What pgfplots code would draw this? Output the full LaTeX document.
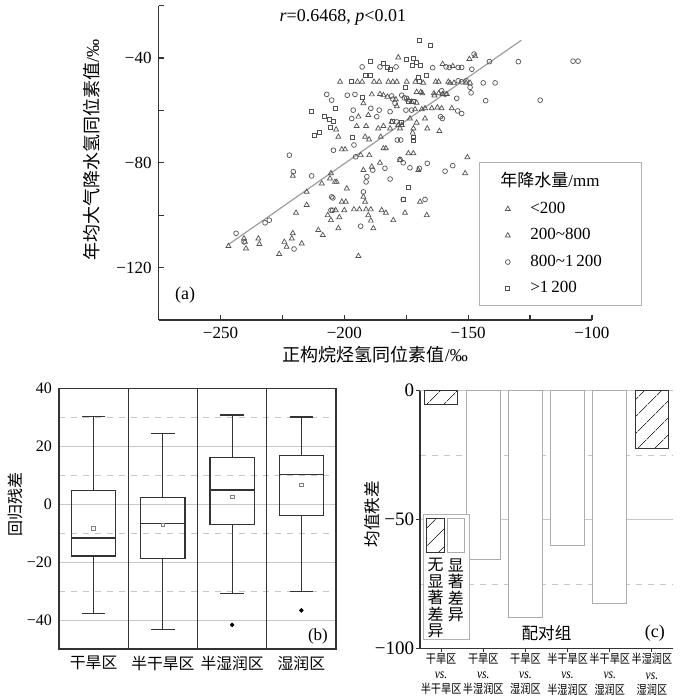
\documentclass[border=0pt]{standalone}
\usepackage{fontspec}
\setmainfont{Liberation Serif}
\newfontfamily\cjk{Noto Sans CJK SC}
\usepackage{pgfplots}
\pgfplotsset{compat=1.18}
\usepgfplotslibrary{statistics}
\usetikzlibrary{patterns.meta}

\definecolor{ptc}{gray}{0.32}
\definecolor{fitc}{RGB}{165,155,155}
\definecolor{gridc}{gray}{0.78}
\definecolor{axc}{gray}{0.2}

% legend swatches of panel (c): patch above, text stacked below
\pgfplotsset{
  sigleg/.style={legend image code/.code={
    \draw[axc, line width=0.5pt, pattern={Lines[angle=45,distance=6.5pt,line width=0.35pt]}, pattern color=axc] (0pt,0pt) rectangle (8.9pt,17pt);
    \node[anchor=north, inner sep=0pt, align=center, font=\fontsize{8}{8.2}\selectfont\cjk] at (4.45pt,-3pt) {无\\显\\著\\差\\异};}},
  nsleg/.style={legend image code/.code={
    \draw[gray!65, line width=0.5pt, fill=white] (0pt,0pt) rectangle (8.4pt,17pt);
    \node[anchor=north, inner sep=0pt, align=center, font=\fontsize{8}{8.2}\selectfont\cjk] at (4.2pt,-3pt) {显\\著\\差\\异};}},
  bx/.style={axc, line width=0.6pt},
}
\newcommand\vs{{\fontsize{7}{7.6}\selectfont\textit{vs.}}}

\begin{document}
\begin{tikzpicture}
\path[use as bounding box] (0,0) rectangle (350pt,348pt);

% ---------------- (a) scatter
\begin{axis}[
  at={(79.3pt,188pt)}, anchor=south west, scale only axis,
  width=216.65pt, height=157.2pt,
  xmin=-275, xmax=-100, ymin=-140, ymax=-20,
  axis lines*=left, axis line style={line width=0.6pt, axc},
  tick align=inside, major tick length=2.5pt, minor tick length=2.5pt,
  tick style={axc, line width=0.6pt},
  xtick={-250,-200,-150,-100}, xticklabels={−250,−200,−150,−100},
  minor xtick={-225,-175,-125},
  ytick={-120,-80,-40}, yticklabels={−120,−80,−40},
  minor ytick={-140,-100,-60,-20},
  tick label style={font=\fontsize{8.5}{10}\selectfont},
  xlabel={{\cjk 正构烷烃氢同位素值}/‰},
  ylabel={{\cjk 年均大气降水氢同位素值}/‰},
  label style={font=\fontsize{9}{10}\selectfont},
  xlabel style={at={(axis description cs:0.5,-0.111)}, anchor=center},
  ylabel style={at={(axis description cs:-0.154,0.54)}, anchor=center},
  legend style={at={(0.740,0.503)}, anchor=north west, draw=gray!60, line width=0.5pt,
    font=\fontsize{8.5}{10}\selectfont, row sep=2.1pt, inner xsep=5.5pt, inner ysep=3pt,
    /tikz/every odd column/.append style={column sep=8pt}},
  legend cell align=left,
  clip=false,
]
\addplot[forget plot, fitc, line width=0.6pt] coordinates {(-246.8,-111.2) (-128.5,-33.2)};

\addlegendimage{empty legend}
\addlegendentry{\hspace{-15pt}{\cjk 年降水量}/mm}

\addplot[only marks, mark=triangle, mark size=1.45pt, ptc, mark options={line width=0.35pt}] coordinates {
(-246.8,-111.8) (-240.5,-108.9) (-240.1,-110.2) (-239.7,-112.7) (-234.7,-108.9) (-234.3,-111.0)
(-226.3,-114.8) (-224.2,-110.2) (-223.3,-112.1) (-221.2,-108.9) (-220.8,-106.9) (-217.2,-110.8)
(-210.5,-105.7) (-208.7,-107.6) (-202.4,-105.0) (-188.3,-105.0) (-194.3,-115.6) (-205.4,-101.9)
(-202.0,-100.8) (-189.3,-102.1) (-180.2,-101.9) (-206.7,-100.0) (-190.3,-100.0) (-166.7,-100.0)
};
\addlegendentry{<200}

\addplot[only marks, mark=triangle, mark size=1.45pt, ptc, mark options={line width=0.35pt}] coordinates {
(-178.2,-39.8) (-160.3,-42.3) (-156.2,-43.1) (-149.5,-40.4) (-147.2,-39.3)
(-201.7,-49.1) (-194.7,-49.1) (-192.8,-49.1) (-188.0,-49.1) (-185.9,-49.1) (-182.2,-49.1)
(-180.4,-49.1) (-178.8,-49.1) (-174.8,-49.1) (-171.3,-49.1) (-163.1,-49.1) (-161.9,-49.1)
(-158.0,-49.1) (-168.1,-49.5) (-157.3,-49.5) (-155.7,-49.5) (-150.8,-49.5) (-149.2,-49.5)
(-169.1,-53.0) (-170.8,-53.0) (-188.9,-53.9) (-185.6,-53.8) (-184.2,-54.2) (-182.6,-54.8)
(-163.8,-53.5) (-161.9,-53.5) (-160.3,-53.8) (-158.6,-53.8) (-168.5,-53.5) (-163.6,-54.3)
(-179.2,-55.8) (-170.8,-57.1) (-174.1,-56.1) (-172.8,-56.7) (-192.3,-57.3) (-178.8,-58.4)
(-167.4,-59.2) (-164.7,-59.2) (-162.4,-58.9) (-160.7,-59.2) (-171.4,-59.6) (-168.7,-59.6)
(-156.6,-59.2) (-194.3,-62.4) (-190.3,-61.8) (-180.9,-64.4) (-173.5,-63.1) (-170.8,-64.7)
(-167.4,-63.1) (-178.2,-65.6) (-176.8,-65.6) (-203.3,-67.3) (-195.0,-66.0) (-191.2,-66.0)
(-186.3,-66.9) (-184.2,-66.0) (-181.5,-66.9) (-177.5,-66.9) (-172.1,-66.9) (-166.5,-66.9)
(-161.6,-67.9) (-172.4,-68.5) (-202.4,-70.1) (-191.6,-70.1) (-190.0,-71.1) (-185.3,-70.1)
(-201.0,-74.9) (-199.7,-74.9) (-184.2,-74.5) (-183.2,-74.5) (-193.4,-77.1) (-189.9,-77.1)
(-174.1,-76.4) (-172.1,-76.4) (-150.3,-77.9) (-177.5,-79.0) (-185.6,-80.0) (-170.1,-82.8)
(-188.9,-81.5) (-192.3,-82.8) (-151.2,-84.0) (-220.8,-85.0) (-205.4,-84.0) (-205.8,-86.0)
(-203.8,-87.3) (-203.1,-87.3) (-209.1,-87.9) (-215.2,-91.1) (-199.0,-89.8) (-192.3,-93.0)
(-191.6,-94.9) (-201.0,-94.9) (-199.4,-94.9) (-169.4,-94.9) (-215.2,-96.1) (-203.5,-98.1)
(-200.0,-98.1) (-196.1,-97.8) (-193.9,-97.8) (-191.2,-97.8) (-189.3,-97.8) (-184.9,-98.1)
(-183.2,-99.1) (-175.5,-99.1) (-219.5,-99.1)
};
\addlegendentry{200\textasciitilde{}800}

\addplot[only marks, mark=o, mark size=1.2pt, ptc, mark options={line width=0.35pt}] coordinates {
(-192.8,-43.4) (-185.6,-43.4) (-179.1,-43.4) (-164.3,-43.7) (-158.9,-43.4) (-157.6,-43.6)
(-154.0,-43.6) (-152.6,-43.6) (-147.6,-38.5) (-148.5,-44.3) (-141.4,-41.4) (-129.7,-41.4)
(-107.6,-41.2) (-105.6,-41.2) (-207.1,-53.9) (-198.8,-54.2) (-195.7,-53.9) (-180.9,-54.5)
(-176.8,-54.2) (-160.7,-52.5) (-159.3,-53.8) (-154.0,-48.7) (-152.6,-49.1) (-150.8,-48.7)
(-143.9,-49.5) (-139.1,-49.5) (-149.2,-51.2) (-148.8,-53.3) (-205.1,-56.1) (-180.4,-55.7)
(-175.8,-55.2) (-174.8,-55.4) (-154.6,-55.4) (-142.9,-56.3) (-189.3,-59.2) (-185.9,-59.9)
(-181.5,-60.5) (-196.4,-59.9) (-175.1,-59.9) (-172.8,-59.9) (-179.5,-57.3) (-154.2,-60.2)
(-152.6,-61.2) (-161.1,-62.4) (-160.4,-63.1) (-197.0,-63.1) (-186.9,-62.4) (-178.8,-64.4)
(-196.1,-73.2) (-178.6,-71.3) (-177.2,-71.3) (-204.4,-75.2) (-195.4,-77.7) (-177.5,-78.7)
(-176.2,-80.0) (-222.2,-77.1) (-166.5,-80.2) (-169.7,-82.1) (-173.5,-81.9) (-159.3,-83.2)
(-156.2,-81.1) (-183.6,-82.1) (-188.5,-82.8) (-190.9,-85.3) (-181.5,-86.2) (-191.2,-87.3)
(-220.6,-83.4) (-213.2,-85.0) (-192.3,-91.1) (-205.1,-93.0) (-204.6,-93.4) (-176.2,-94.0)
(-167.4,-94.0) (-205.4,-98.1) (-204.7,-98.1) (-232.0,-102.9) (-230.3,-101.9) (-193.4,-104.2)
(-243.7,-106.9) (-240.5,-110.2) (-220.3,-112.9) (-120.9,-56.1)
};
\addlegendentry{800\textasciitilde{}1\,200\kern12.5pt\null}

\addplot[only marks, mark=square, mark size=1.0pt, ptc, mark options={line width=0.35pt}] coordinates {
(-169.7,-33.4) (-165.1,-35.3) (-174.8,-40.4) (-172.2,-40.0) (-171.0,-41.5) (-172.5,-42.7)
(-169.3,-42.7) (-189.6,-41.4) (-184.2,-42.1) (-182.6,-43.4) (-181.3,-44.2) (-191.6,-46.5)
(-189.6,-46.5) (-170.1,-47.4) (-166.7,-46.5) (-197.3,-49.1) (-169.7,-49.1) (-175.5,-51.2)
(-192.7,-55.0) (-174.1,-56.7) (-172.1,-56.7) (-203.5,-59.2) (-213.2,-60.2) (-208.2,-62.4)
(-206.1,-63.3) (-204.4,-64.0) (-176.8,-64.4) (-180.4,-64.0) (-205.8,-66.3) (-212.2,-69.4)
(-210.1,-68.2) (-196.6,-70.1) (-172.1,-70.1) (-172.1,-71.3) (-174.1,-89.2) (-176.2,-94.0)
};
\addlegendentry{>1\,200}

\node[font=\fontsize{9}{10}\selectfont] at (axis cs:-200.6,-24.4) {\textit{r}=0.6468, \textit{p}<0.01};
\node[font=\fontsize{9}{10}\selectfont] at (axis cs:-264.3,-130.5) {(a)};
\end{axis}

% ---------------- (b) box plots
\begin{axis}[
  at={(29.5pt,23.5pt)}, anchor=south west, scale only axis,
  width=138.5pt, height=130.35pt,
  xmin=0, xmax=4, ymin=-50, ymax=40,
  axis line style={line width=0.6pt, axc},
  major tick length=0pt, minor tick length=0pt,
  xtick={0.5,1.5,2.5,3.5},
  xticklabels={{\cjk 干旱区},{\cjk 半干旱区},{\cjk 半湿润区},{\cjk 湿润区}},
  ytick={-40,-20,0,20,40}, yticklabels={−40,−20,0,20,40},
  minor ytick={-30,-10,10,30},
  ymajorgrids, yminorgrids,
  major grid style={gridc, line width=0.5pt},
  minor grid style={gridc, dashed, line width=0.4pt},
  extra x ticks={1,2,3}, extra x tick labels={},
  extra x tick style={grid=major, major grid style={axc, solid, line width=0.6pt}},
  xticklabel style={font=\fontsize{7.9}{9}\selectfont},
  yticklabel style={font=\fontsize{8}{9}\selectfont},
  ylabel={{\cjk 回归残差}},
  ylabel style={font=\fontsize{8}{9}\selectfont, at={(axis description cs:-0.159,0.556)}, anchor=center},
  boxplot/draw direction=y,
]
\addplot[boxplot prepared={lower whisker=-37.7, lower quartile=-17.9, median=-11.7,
  upper quartile=4.7, upper whisker=30.2, draw position=0.5, box extend=0.64, whisker extend=0.34},
  bx] coordinates {};
\addplot[boxplot prepared={lower whisker=-43.4, lower quartile=-18.7, median=-6.6,
  upper quartile=2.4, upper whisker=24.4, draw position=1.5, box extend=0.64, whisker extend=0.34},
  bx] coordinates {};
\addplot[boxplot prepared={lower whisker=-30.9, lower quartile=-6.9, median=4.9,
  upper quartile=16.0, upper whisker=30.8, draw position=2.5, box extend=0.64, whisker extend=0.34},
  bx] coordinates {};
\addplot[boxplot prepared={lower whisker=-30.2, lower quartile=-3.8, median=10.3,
  upper quartile=16.9, upper whisker=30.1, draw position=3.5, box extend=0.64, whisker extend=0.34},
  bx] coordinates {};
% means
\addplot[only marks, mark=square, mark size=0.9pt, gray, mark options={line width=0.35pt}]
  coordinates {(0.5,-8.3) (1.5,-7.2) (2.5,2.6) (3.5,6.7)};
% outliers
\addplot[only marks, mark=*, mark size=0.9pt, black]
  coordinates {(2.5,-41.7) (3.5,-36.7)};
\node[font=\fontsize{8.5}{10}\selectfont] at (axis cs:3.74,-45.8) {(b)};
\end{axis}

% ---------------- (c) mean rank differences
\begin{axis}[
  at={(210pt,23.85pt)}, anchor=south west, scale only axis,
  width=126.5pt, height=128.8pt,
  xmin=-0.5, xmax=5.5, ymin=-100, ymax=0,
  axis lines*=left, axis line style={line width=0.6pt, axc},
  tick align=outside, major tick length=2pt, minor tick length=0pt,
  tick style={axc, line width=0.5pt},
  ybar, bar width=0.8,
  xtick={0,1,2,3,4,5},
  xticklabels={
    {{\cjk 干旱区}\\\vs\\{\cjk 半干旱区}},
    {{\cjk 干旱区}\\\vs\\{\cjk 半湿润区}},
    {{\cjk 干旱区}\\\vs\\{\cjk 湿润区}},
    {{\cjk 半干旱区}\\\vs\\{\cjk 半湿润区}},
    {{\cjk 半干旱区}\\\vs\\{\cjk 湿润区}},
    {{\cjk 半湿润区}\\\vs\\{\cjk 湿润区}}},
  xticklabel style={align=center, font=\fontsize{6.2}{7.6}\selectfont, xscale=0.82, yshift=3pt},
  ytick={-100,-50,0}, yticklabels={−100,−50,0},
  minor ytick={-75,-25},
  ymajorgrids, yminorgrids,
  major grid style={gridc, line width=0.5pt},
  minor grid style={gridc, dashed, line width=0.4pt},
  yticklabel style={font=\fontsize{9.5}{10}\selectfont, inner xsep=0.8pt},
  ylabel={{\cjk 均值秩差}},
  ylabel style={font=\fontsize{8.3}{9}\selectfont, at={(axis description cs:-0.19,0.521)}, anchor=center},
  legend columns=2,
  legend style={at={(0.011,0.032)}, anchor=south west, draw=gray!60, line width=0.5pt,
    inner sep=1.5pt, column sep=0pt, row sep=0pt, nodes={inner sep=0pt, text depth=0pt}},
]
\addplot[ybar, bar shift=0pt, bar width=0.8, draw=axc, line width=0.5pt,
  pattern={Lines[angle=45,distance=6.5pt,line width=0.35pt]}, pattern color=axc, sigleg]
  coordinates {(0,-5.2) (5,-22.4)};
\addlegendentry{}
\addplot[ybar, bar shift=0pt, bar width=0.8, draw=gray!65, fill=white, line width=0.5pt, nsleg]
  coordinates {(1,-65.5) (2,-88.2) (3,-60.0) (4,-82.8)};
\addlegendentry{}
\node[font=\fontsize{8.3}{9}\selectfont\cjk] at (axis cs:2.5,-94.1) {配对组};
\node[font=\fontsize{9}{10}\selectfont] at (axis cs:5.07,-94.1) {(c)};
\end{axis}
\end{tikzpicture}
\end{document}
